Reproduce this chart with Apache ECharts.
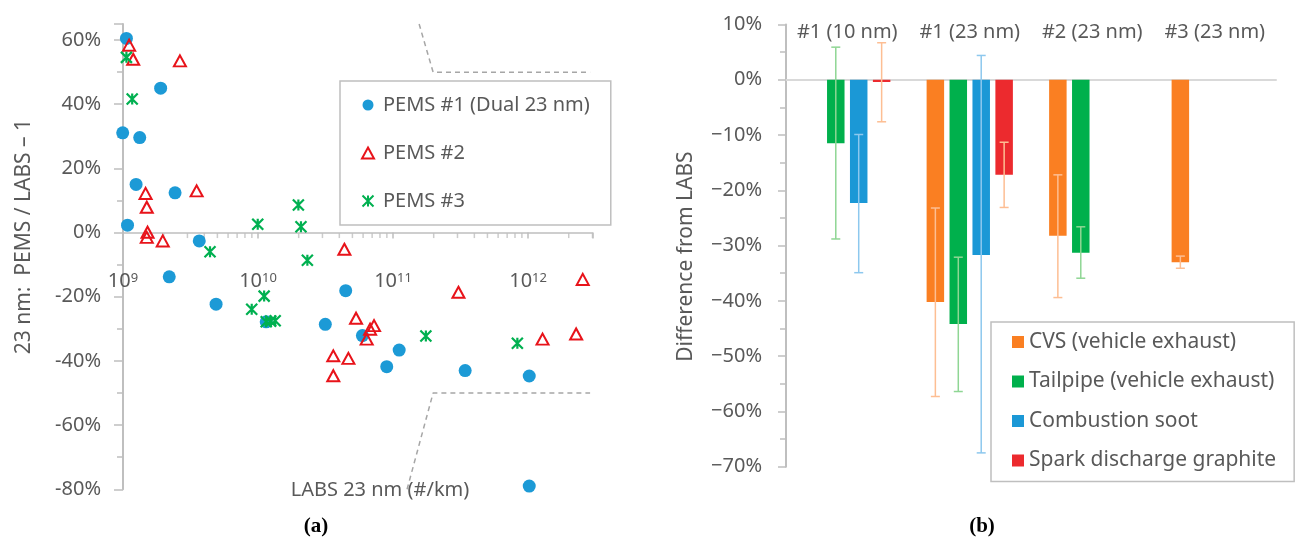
<!DOCTYPE html>
<html>
<head>
<meta charset="utf-8">
<script src="https://cdn.jsdelivr.net/npm/echarts@6/dist/echarts.min.js"></script>
<style>
  html, body { margin: 0; padding: 0; background: #fff; }
  #chart { width: 1295px; height: 546px; }
</style>
</head>
<body>
<div id="chart"></div>
<script>
// --- Panel (a): PEMS / LABS - 1 vs LABS 23 nm (#/km) ---
const pems1X = [1.06e9, 1.90e9, 0.995e9, 1.33e9, 1.25e9, 2.43e9, 1.08e9, 3.67e9, 2.2e9, 4.89e9,
                1.15e10, 3.15e10, 4.46e10, 5.93e10, 1.11e11, 8.98e10, 3.42e11, 1.02e12, 1.02e12];
const pems1Y = [60.5, 45.0, 31.1, 29.6, 15.0, 12.4, 2.3, -2.6, -13.8, -22.3,
                -27.8, -28.6, -18.1, -32.1, -36.6, -41.8, -43.0, -44.7, -79.0];

const pems2X = [1.11e9, 1.19e9, 2.64e9, 1.47e9, 3.51e9, 1.5e9, 1.52e9, 1.5e9, 1.97e9, 4.36e10,
                3.05e11, 2.54e12, 5.32e10, 7.23e10, 6.76e10, 6.38e10, 3.61e10, 4.67e10, 3.61e10, 1.28e12, 2.27e12];
const pems2Y = [58.4, 54.0, 53.5, 12.2, 13.0, 7.9, 0.1, -1.5, -2.6, -5.2,
                -18.6, -14.6, -26.7, -29.0, -30.1, -33.2, -38.4, -39.2, -44.6, -33.2, -31.6];

const pems3X = [1.06e9, 1.17e9, 9.95e9, 1.99e10, 2.08e10, 4.41e9, 2.32e10, 1.11e10, 8.98e9,
                1.15e10, 1.24e10, 1.34e10, 1.75e11, 8.33e11];
const pems3Y = [54.6, 41.6, 2.6, 8.6, 1.8, -6.0, -8.6, -19.8, -23.9,
                -27.8, -27.6, -27.5, -32.2, -34.5];

// callout dashed lines (data coordinates)
const calloutTopX = [1.56e11, 1.98e11, 2.88e12];
const calloutTopY = [65, 50, 50];
const calloutBotX = [1.27e11, 1.98e11, 2.88e12];
const calloutBotY = [-80, -50, -50];

// minor ticks of the log axis
const decades = [9, 10, 11, 12];
const minorMult = [2, 3, 4, 5, 6, 7, 8, 9];

// --- Panel (b): difference from LABS ---
const groups = ['#1 (10 nm)', '#1 (23 nm)', '#2 (23 nm)', '#3 (23 nm)'];
const cvs      = [null, -40.2, -28.2, -33.0];
const tailpipe = [-11.5, -44.2, -31.3, null];
const soot     = [-22.3, -31.7, null, null];
const spark    = [-0.4, -17.2, null, null];

// error bars [low, high]
const cvsErr      = [null, [-57.3, -23.2], [-39.4, -17.2], [-34.1, -31.9]];
const tailpipeErr = [[-28.8, 5.9], [-56.4, -32.1], [-35.9, -26.6], null];
const sootErr     = [[-34.9, -9.9], [-67.5, 4.4], null, null];
const sparkErr    = [[-7.6, 6.7], [-23.1, -11.3], null, null];

const FONT = '"Noto Sans", "Open Sans", sans-serif';
const TXT = '#595959';
const AXIS = '#bfbfbf';

// grid geometry (pixels)
const GA = { left: 123, top: 24, width: 469.5, height: 465.3 };
const GB = { left: 786, top: 24.5, width: 490, height: 442.2 };
const YA_MIN = -80, YA_MAX = 65;
const YB_MIN = -70, YB_MAX = 10;
// the x axes sit on the zero line
const offA = -GA.height * (0 - YA_MIN) / (YA_MAX - YA_MIN);
const offB = -GB.height * (YB_MAX - 0) / (YB_MAX - YB_MIN);

const zip = (xs, ys) => xs.map((x, i) => [x, ys[i]]);

const minorTicks = [];
decades.forEach(d => minorMult.forEach(m => {
    const v = m * Math.pow(10, d);
    if (v <= 3e12) minorTicks.push([v, 0]);
}));

// error bars drawn with a custom series
const BAR_W = 17.5;
const GAP = 0.31;
function errSeries(errs, slot, color) {
    const data = [];
    errs.forEach((e, i) => { if (e) data.push([i, e[0], e[1]]); });
    return {
        type: 'custom',
        xAxisIndex: 1, yAxisIndex: 1,
        z: 5, silent: true,
        data: data,
        encode: { x: 0, y: [1, 2] },
        renderItem: function (params, api) {
            const cat = api.value(0);
            const pHi = api.coord([cat, api.value(2)]);
            const pLo = api.coord([cat, api.value(1)]);
            const x = pHi[0] + (slot - 1.5) * BAR_W * (1 + GAP);
            const h = 4.5;
            const st = { stroke: color, lineWidth: 1.5 };
            return {
                type: 'group',
                children: [
                    { type: 'line', shape: { x1: x, y1: pHi[1], x2: x, y2: pLo[1] }, style: st },
                    { type: 'line', shape: { x1: x - h, y1: pHi[1], x2: x + h, y2: pHi[1] }, style: st },
                    { type: 'line', shape: { x1: x - h, y1: pLo[1], x2: x + h, y2: pLo[1] }, style: st }
                ]
            };
        }
    };
}

const chart = echarts.init(document.getElementById('chart'));

chart.setOption({
    animation: false,
    backgroundColor: '#fff',
    textStyle: { fontFamily: FONT },
    grid: [
        Object.assign({ outerBoundsMode: 'none' }, GA),
        Object.assign({ outerBoundsMode: 'none' }, GB)
    ],
    xAxis: [
        {
            gridIndex: 0, type: 'log', logBase: 10, min: 1e9, max: 3e12,
            position: 'bottom', offset: offA,
            axisLine: { onZero: false, lineStyle: { color: AXIS, width: 1.5 } },
            axisTick: { length: 6, lineStyle: { color: AXIS, width: 1.5 } },
            splitLine: { show: false },
            axisLabel: {
                margin: 39,
                formatter: function (v) {
                    const e = Math.log10(v);
                    if (Math.abs(e - Math.round(e)) > 1e-6 || v > 2e12) return '';
                    return '{b|10}{s|' + Math.round(e) + '}';
                },
                rich: {
                    b: { fontSize: 20, color: TXT, fontFamily: FONT },
                    s: { fontSize: 13, color: TXT, fontFamily: FONT, verticalAlign: 'top' }
                }
            }
        },
        {
            gridIndex: 1, type: 'category', position: 'top', offset: offB, data: groups,
            axisLine: { onZero: false, lineStyle: { color: '#d9d9d9', width: 2 } },
            axisTick: { show: false },
            splitLine: { show: false },
            axisLabel: { margin: 37, fontSize: 20, color: TXT, interval: 0, fontFamily: FONT }
        }
    ],
    yAxis: [
        {
            gridIndex: 0, type: 'value', min: YA_MIN, max: YA_MAX, interval: 20,
            axisLine: { show: true, onZero: false, lineStyle: { color: AXIS, width: 2 } },
            axisTick: { show: true, length: 9, lineStyle: { color: AXIS, width: 1.5 } },
            minorTick: { show: true, splitNumber: 2, length: 6, lineStyle: { color: AXIS, width: 1.5 } },
            splitLine: { show: false },
            axisLabel: {
                margin: 22, fontSize: 20, color: TXT, fontFamily: FONT,
                formatter: v => (v % 20 === 0 ? v + '%' : '')
            },
            name: '23 nm:  PEMS / LABS – 1',
            nameLocation: 'middle', nameRotate: 90, nameGap: 88,
            nameTextStyle: { fontSize: 21, color: TXT, fontFamily: FONT, padding: [0, 0, 0, 40] }
        },
        {
            gridIndex: 1, type: 'value', min: YB_MIN, max: YB_MAX, interval: 10,
            axisLine: { show: true, onZero: false, lineStyle: { color: AXIS, width: 2 } },
            axisTick: { show: true, length: 8, lineStyle: { color: AXIS, width: 1.5 } },
            minorTick: { show: true, splitNumber: 2, length: 6, lineStyle: { color: AXIS, width: 1.5 } },
            splitLine: { show: false },
            axisLabel: {
                margin: 24, fontSize: 20, color: TXT, fontFamily: FONT,
                formatter: v => (v < 0 ? '\u2212' + (-v) : v) + '%'
            },
            name: 'Difference from LABS',
            nameLocation: 'middle', nameRotate: 90, nameGap: 89,
            nameTextStyle: { fontSize: 21, color: TXT, fontFamily: FONT, padding: [0, 22, 0, 0] }
        }
    ],
    legend: [
        {
            data: ['PEMS #1 (Dual 23 nm)', 'PEMS #2', 'PEMS #3'],
            left: 340, top: 81, orient: 'vertical',
            itemWidth: 12, itemHeight: 11, itemGap: 24,
            padding: [12, 21, 12, 21],
            borderColor: AXIS, borderWidth: 1.5,
            selectedMode: false,
            textStyle: { fontSize: 20, color: TXT, lineHeight: 24, fontFamily: FONT, padding: [0, 0, 0, 4] }
        },
        {
            data: ['CVS (vehicle exhaust)', 'Tailpipe (vehicle exhaust)', 'Combustion soot', 'Spark discharge graphite'],
            left: 991, top: 322, orient: 'vertical', icon: 'rect',
            itemWidth: 12, itemHeight: 12, itemGap: 15.5,
            padding: [8, 18, 9, 21],
            borderColor: AXIS, borderWidth: 1.5,
            selectedMode: false,
            textStyle: { fontSize: 21, color: TXT, lineHeight: 24, fontFamily: FONT }
        }
    ],
    graphic: [
        { type: 'text', x: 380, y: 490, style: { text: 'LABS 23 nm (#/km)', fill: TXT, font: '20px ' + FONT, textAlign: 'center', textVerticalAlign: 'middle' } },
        { type: 'text', x: 316, y: 527, style: { text: '(a)', fill: '#000', font: 'bold 21px "Liberation Serif", serif', textAlign: 'center', textVerticalAlign: 'middle' } },
        { type: 'text', x: 982, y: 527, style: { text: '(b)', fill: '#000', font: 'bold 21px "Liberation Serif", serif', textAlign: 'center', textVerticalAlign: 'middle' } }
    ],
    series: [
        {
            name: 'callout-top', type: 'line', xAxisIndex: 0, yAxisIndex: 0,
            data: zip(calloutTopX, calloutTopY), symbol: 'none', silent: true, clip: false, z: 1,
            lineStyle: { color: '#a6a6a6', width: 1.5, type: [5, 4] }
        },
        {
            name: 'callout-bottom', type: 'line', xAxisIndex: 0, yAxisIndex: 0,
            data: zip(calloutBotX, calloutBotY), symbol: 'none', silent: true, clip: false, z: 1,
            lineStyle: { color: '#a6a6a6', width: 1.5, type: [5, 4] }
        },
        {
            name: 'minor-ticks', type: 'scatter', xAxisIndex: 0, yAxisIndex: 0,
            data: minorTicks, symbol: 'rect', symbolSize: [1.5, 5], symbolOffset: [0, 3],
            itemStyle: { color: AXIS }, silent: true, clip: false, z: 1
        },
        {
            name: 'PEMS #1 (Dual 23 nm)', type: 'scatter', xAxisIndex: 0, yAxisIndex: 0,
            data: zip(pems1X, pems1Y), symbol: 'circle', symbolSize: 13, clip: false,
            itemStyle: { color: '#1C9AD6', opacity: 1 }
        },
        {
            name: 'PEMS #2', type: 'scatter', xAxisIndex: 0, yAxisIndex: 0,
            data: zip(pems2X, pems2Y), symbol: 'triangle', symbolSize: [12, 11], clip: false,
            itemStyle: { color: 'rgba(255,255,255,0)', borderColor: '#E8131A', borderWidth: 2, opacity: 1 }
        },
        {
            name: 'PEMS #3', type: 'scatter', xAxisIndex: 0, yAxisIndex: 0,
            data: zip(pems3X, pems3Y), symbol: 'path://M0,0L10,10M10,0L0,10M5,0L5,10',
            symbolSize: 11, clip: false,
            itemStyle: { color: 'rgba(0,0,0,0)', borderColor: '#00B050', borderWidth: 2.2, opacity: 1 }
        },
        {
            name: 'CVS (vehicle exhaust)', type: 'bar', xAxisIndex: 1, yAxisIndex: 1,
            data: cvs, barWidth: BAR_W, barGap: (GAP * 100) + '%', itemStyle: { color: '#FA7F22' }
        },
        {
            name: 'Tailpipe (vehicle exhaust)', type: 'bar', xAxisIndex: 1, yAxisIndex: 1,
            data: tailpipe, barWidth: BAR_W, barGap: (GAP * 100) + '%', itemStyle: { color: '#00B04C' }
        },
        {
            name: 'Combustion soot', type: 'bar', xAxisIndex: 1, yAxisIndex: 1,
            data: soot, barWidth: BAR_W, barGap: (GAP * 100) + '%', itemStyle: { color: '#1B98D6' }
        },
        {
            name: 'Spark discharge graphite', type: 'bar', xAxisIndex: 1, yAxisIndex: 1,
            data: spark, barWidth: BAR_W, barGap: (GAP * 100) + '%', itemStyle: { color: '#EC2A2E' }
        },
        errSeries(cvsErr, 0, '#FDBE93'),
        errSeries(tailpipeErr, 1, '#8FD694'),
        errSeries(sootErr, 2, '#8DC8EE'),
        errSeries(sparkErr, 3, '#FDBE93')
    ]
});
</script>
</body>
</html>
